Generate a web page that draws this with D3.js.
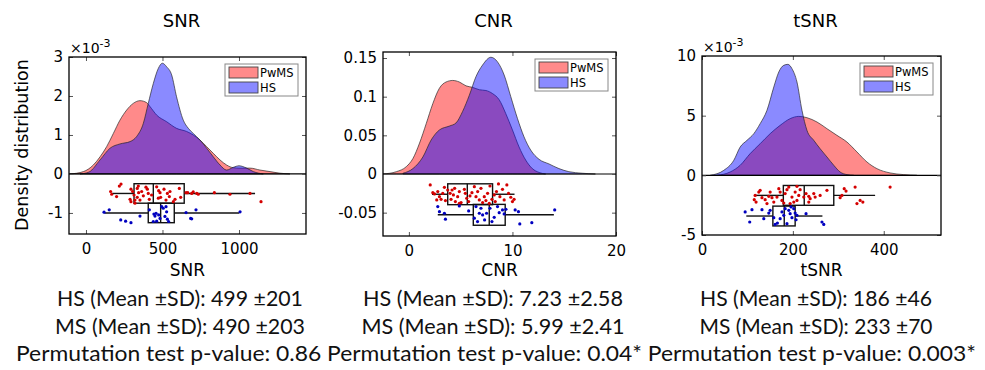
<!DOCTYPE html>
<html>
<head>
<meta charset="utf-8">
<script src="https://cdn.jsdelivr.net/npm/d3@7"></script>
<style>
	body { margin: 0; background: #fff; }
	svg text { font-family: "DejaVu Sans", sans-serif; fill: #000; }
	.stats text { font-family: Lato, "Open Sans", sans-serif; fill: #111; }
</style>
</head>
<body>
<svg id="chart" width="985" height="370"></svg>
<script>

const panelTitles = ['SNR', 'CNR', 'tSNR'];
const legendLabels = ['PwMS', 'HS'];

// density curves: [value, density] (SNR and tSNR densities in units of 1e-3)
const snrDensityMS = [[-105,0],[-17,0.06],[48,0.23],[92,0.44],[135,0.70],[179,1.04],[222,1.38],[266,1.64],[309,1.81],[353,1.88],[396,1.83],[418,1.73],[462,1.51],[527,1.34],[592,1.17],[658,1.09],[701,1.0],[745,0.87],[789,0.70],[832,0.53],[876,0.36],[919,0.23],[963,0.16],[1007,0.15],[1072,0.15],[1137,0.10],[1203,0.06],[1268,0.02],[1333,0]];
const snrDensityHS = [[-39,0],[20,0.05],[92,0.36],[157,0.66],[222,0.77],[288,0.83],[331,0.96],[375,1.30],[407,1.81],[440,2.32],[473,2.71],[499,2.84],[527,2.75],[560,2.54],[592,1.98],[636,1.38],[669,1.17],[701,1.04],[745,0.87],[789,0.66],[832,0.44],[876,0.23],[919,0.10],[963,0.17],[1000,0.21],[1050,0.15],[1094,0.06],[1159,0]];
const cnrDensityMS = [[-2.5,0],[-1.21,0.003],[-0.25,0.0095],[0.39,0.020],[1.03,0.040],[1.67,0.065],[2.31,0.091],[2.95,0.111],[3.59,0.119],[4.23,0.121],[4.87,0.119],[5.52,0.114],[6.16,0.112],[6.80,0.109],[7.44,0.108],[8.08,0.104],[8.72,0.096],[9.36,0.078],[10.0,0.057],[10.64,0.035],[11.28,0.018],[11.92,0.007],[12.57,0.002],[13.21,0]];
const cnrDensityHS = [[-0.57,0.001],[0.39,0.007],[1.35,0.022],[2.15,0.044],[2.95,0.057],[3.91,0.062],[4.55,0.066],[5.19,0.081],[5.84,0.102],[6.48,0.126],[7.12,0.141],[7.92,0.151],[8.56,0.145],[9.20,0.128],[9.84,0.100],[10.48,0.072],[11.12,0.048],[11.76,0.031],[12.57,0.019],[13.53,0.013],[14.49,0.007],[15.45,0.003],[16.73,0.001],[18.01,0]];
const tsnrDensityMS = [[33,0],[62,0.28],[84,0.84],[106,1.82],[128,2.65],[150,3.49],[172,4.19],[194,4.75],[213,4.94],[231,4.83],[253,4.47],[275,3.91],[297,3.35],[319,2.79],[341,1.96],[363,1.12],[385,0.56],[414,0.20],[444,0.06],[473,0]];
const tsnrDensityHS = [[18,0],[48,0.42],[70,1.26],[84,2.37],[99,2.93],[114,3.49],[128,4.33],[143,5.45],[158,7.40],[169,8.66],[180,9.22],[189,9.30],[198,8.94],[209,7.82],[220,5.45],[231,3.77],[246,2.93],[260,2.23],[275,1.54],[290,0.84],[304,0.28],[319,0.06],[334,0]];

// box stats: [lower whisker, Q1, median, Q3, upper whisker]
const snrBoxMS = [168, 314, 440, 642, 1105];
const snrBoxHS = [120, 407, 488, 577, 1002];
const cnrBoxMS = [2.23, 3.75, 5.64, 8.08, 10.2];
const cnrBoxHS = [2.79, 6.22, 7.76, 9.30, 14.0];
const tsnrBoxMS = [117, 179, 225, 290, 381];
const tsnrBoxHS = [97.5, 156, 181, 205, 265];

// box rows (centre level of PwMS, centre level of HS, half height) in density units
const snrBoxRows = [-0.5, -1.0, 0.25];
const cnrBoxRows = [-0.0262, -0.0528, 0.0135];
const tsnrBoxRows = [-1.68, -3.41, 0.83];

// individual subjects: [value, jittered level]
const snrPointsMS = [[229,-0.26],[218,-0.31],[161,-0.45],[168,-0.52],[200,-0.58],[294,-0.39],[305,-0.45],[314,-0.54],[288,-0.65],[294,-0.71],[320,-0.67],[335,-0.37],[364,-0.45],[392,-0.34],[401,-0.39],[407,-0.50],[414,-0.65],[462,-0.33],[475,-0.43],[484,-0.48],[510,-0.39],[523,-0.67],[532,-0.50],[549,-0.45],[571,-0.71],[582,-0.65],[610,-0.37],[619,-0.60],[654,-0.48],[665,-0.48],[691,-0.50],[701,-0.46],[724,-0.50],[734,-0.52],[839,-0.48],[941,-0.52],[1072,-0.50],[1144,-0.71],[473,-0.62],[335,-0.60],[353,-0.67],[375,-0.56],[344,-0.48],[320,-0.75],[429,-0.54],[545,-0.58],[488,-0.60],[342,-0.31]];
const snrPointsHS = [[118,-0.98],[152,-0.92],[227,-1.18],[259,-1.21],[294,-1.25],[353,-1.08],[444,-1.03],[451,-1.08],[462,-1.21],[458,-1.01],[495,-0.84],[505,-0.88],[523,-0.84],[527,-0.97],[532,-1.16],[540,-1.22],[516,-1.09],[484,-1.14],[475,-1.05],[654,-0.99],[684,-1.14],[719,-0.92],[1007,-0.97],[414,-0.92],[691,-1.15],[440,-1.22]];
const cnrPointsMS = [[2.06,-0.0142],[2.31,-0.0241],[2.47,-0.0258],[2.79,-0.0228],[2.95,-0.0293],[3.11,-0.0327],[3.27,-0.0250],[3.43,-0.0172],[3.75,-0.0207],[3.98,-0.0250],[4.07,-0.0327],[4.30,-0.0271],[4.49,-0.0357],[4.71,-0.0293],[4.87,-0.0228],[5.04,-0.0370],[5.36,-0.0198],[5.45,-0.0250],[5.58,-0.0314],[5.77,-0.0357],[6.09,-0.0241],[6.32,-0.0164],[6.48,-0.0293],[6.64,-0.0228],[6.80,-0.0336],[6.96,-0.0185],[7.28,-0.0293],[7.44,-0.0344],[7.60,-0.0250],[7.83,-0.0155],[8.02,-0.0327],[8.24,-0.0271],[8.46,-0.0228],[8.65,-0.0129],[8.79,-0.0293],[9.04,-0.0198],[9.20,-0.0336],[9.46,-0.0142],[9.62,-0.0250],[9.84,-0.0301],[10.0,-0.0357],[10.16,-0.0327],[8.34,-0.0357],[7.76,-0.0379],[7.12,-0.0370],[3.53,-0.0344],[2.69,-0.0336],[4.17,-0.0207],[4.87,-0.0379],[5.90,-0.0284],[4.42,-0.0185]];
const cnrPointsHS = [[2.79,-0.0422],[2.95,-0.0487],[3.43,-0.0508],[3.53,-0.0585],[4.87,-0.0413],[5.77,-0.0478],[6.48,-0.0422],[6.96,-0.0443],[7.12,-0.0530],[7.31,-0.0594],[7.50,-0.0508],[7.83,-0.0443],[8.02,-0.0616],[8.24,-0.0560],[8.56,-0.0422],[8.72,-0.0500],[9.04,-0.0465],[9.20,-0.0517],[9.37,-0.0456],[10.26,-0.0465],[10.58,-0.0487],[10.71,-0.0646],[11.87,-0.0629],[14.08,-0.0465],[6.32,-0.0572],[6.80,-0.0508],[6.63,-0.0616]];
const tsnrPointsMS = [[117,-1.68],[125,-1.40],[128,-1.26],[115,-2.04],[119,-2.24],[132,-1.87],[139,-2.04],[143,-2.37],[147,-1.76],[154,-1.87],[158,-2.24],[165,-1.82],[172,-1.40],[176,-2.10],[183,-1.53],[187,-1.20],[191,-0.98],[198,-1.82],[202,-2.24],[205,-1.40],[209,-2.10],[213,-1.68],[216,-1.20],[224,-1.82],[229,-1.53],[235,-1.76],[238,-1.96],[246,-1.53],[249,-1.82],[260,-1.68],[275,-1.26],[304,-1.87],[308,-1.68],[313,-1.12],[317,-1.32],[337,-0.98],[341,-2.37],[348,-2.10],[354,-2.24],[414,-0.98],[180,-2.32],[194,-2.37],[169,-1.12],[209,-0.92],[150,-1.40],[235,-2.24]];
const tsnrPointsHS = [[95,-3.07],[105,-3.91],[110,-2.88],[132,-2.88],[136,-3.63],[147,-3.16],[150,-2.93],[158,-3.55],[161,-4.11],[172,-3.63],[180,-3.35],[183,-2.79],[187,-4.05],[191,-2.93],[194,-3.21],[198,-3.55],[202,-2.79],[205,-3.16],[209,-3.35],[229,-3.21],[264,-3.91],[268,-4.11],[166,-4.00],[176,-3.07],[196,-2.65],[207,-3.72]];

// axes
const snrXDomain = [-111, 1438], snrYDomain = [-1.54, 3];
const cnrXDomain = [-2.5, 20], cnrYDomain = [-0.0802, 0.1578];
const tsnrXDomain = [0, 526], tsnrYDomain = [-5, 10];
const snrXTicks = [0, 500, 1000], snrYTicks = [-1, 0, 1, 2, 3];
const cnrXTicks = [0, 10, 20], cnrYTicks = [-0.05, 0, 0.05, 0.1, 0.15];
const tsnrXTicks = [0, 200, 400], tsnrYTicks = [-5, 0, 5, 10];
const yExponents = [-3, null, -3];

// group statistics printed under each panel
const hsMean = ['499', '7.23', '186'], hsSD = ['201', '2.58', '46'];
const msMean = ['490', '5.99', '233'], msSD = ['203', '2.41', '70'];
const pValues = ['0.86', '0.04*', '0.003*'];

const panels = [
	{ title: panelTitles[0], xDomain: snrXDomain, yDomain: snrYDomain, xTicks: snrXTicks, yTicks: snrYTicks, exp: yExponents[0],
	  dens: [snrDensityMS, snrDensityHS], boxes: [snrBoxMS, snrBoxHS], points: [snrPointsMS, snrPointsHS], rows: snrBoxRows,
	  frame: { left: 69, right: 306, top: 57, bottom: 234 } },
	{ title: panelTitles[1], xDomain: cnrXDomain, yDomain: cnrYDomain, xTicks: cnrXTicks, yTicks: cnrYTicks, exp: yExponents[1],
	  dens: [cnrDensityMS, cnrDensityHS], boxes: [cnrBoxMS, cnrBoxHS], points: [cnrPointsMS, cnrPointsHS], rows: cnrBoxRows,
	  frame: { left: 383, right: 616, top: 52, bottom: 236 } },
	{ title: panelTitles[2], xDomain: tsnrXDomain, yDomain: tsnrYDomain, xTicks: tsnrXTicks, yTicks: tsnrYTicks, exp: yExponents[2],
	  dens: [tsnrDensityMS, tsnrDensityHS], boxes: [tsnrBoxMS, tsnrBoxHS], points: [tsnrPointsMS, tsnrPointsHS], rows: tsnrBoxRows,
	  frame: { left: 702, right: 941, top: 56, bottom: 235 } }
];

const fills = ['rgba(255,0,0,0.46)', 'rgba(0,0,255,0.46)'];
const dotColors = ['#d40000', '#0000c0'];

const svg = d3.select('#chart');

function drawPanel(p, idx) {

	const f = p.frame;
	const x = d3.scaleLinear().domain(p.xDomain).range([f.left, f.right]);
	const y = d3.scaleLinear().domain(p.yDomain).range([f.bottom, f.top]);
	const g = svg.append('g').attr('class', 'panel');

	g.append('clipPath')
		.attr('id', `clip${idx}`)
		.append('rect')
			.attr('x', f.left).attr('y', f.top)
			.attr('width', f.right - f.left).attr('height', f.bottom - f.top);

	const plot = g.append('g').attr('clip-path', `url(#clip${idx})`);

	const area = d3.area()
		.x(d => x(d[0]))
		.y0(y(0))
		.y1(d => y(d[1]))
		.curve(d3.curveMonotoneX);

	p.dens.forEach((dens, i) => {
		plot.append('path')
			.datum(dens)
			.attr('d', area)
			.attr('fill', fills[i])
			.attr('stroke', 'rgba(30,30,30,0.65)')
			.attr('stroke-width', 1);
	});

	plot.append('line')
		.attr('x1', f.left).attr('x2', f.right)
		.attr('y1', y(0)).attr('y2', y(0))
		.attr('stroke', '#000').attr('stroke-width', 1.2);

	// boxplots
	const half = p.rows[2];
	p.boxes.forEach((b, i) => {
		const lvl = p.rows[i];
		const bg = plot.append('g').attr('stroke', '#111').attr('stroke-width', 1.4).attr('fill', 'none');
		bg.append('line').attr('x1', x(b[0])).attr('x2', x(b[1])).attr('y1', y(lvl)).attr('y2', y(lvl));
		bg.append('line').attr('x1', x(b[3])).attr('x2', x(b[4])).attr('y1', y(lvl)).attr('y2', y(lvl));
		bg.append('rect')
			.attr('x', x(b[1])).attr('width', x(b[3]) - x(b[1]))
			.attr('y', y(lvl + half)).attr('height', y(lvl - half) - y(lvl + half));
		bg.append('line').attr('x1', x(b[2])).attr('x2', x(b[2])).attr('y1', y(lvl + half)).attr('y2', y(lvl - half));
	});

	p.points.forEach((pts, i) => {
		plot.append('g')
			.selectAll('circle')
			.data(pts)
			.enter()
			.append('circle')
				.attr('cx', d => x(d[0]))
				.attr('cy', d => y(d[1]))
				.attr('r', 1.6)
				.attr('fill', dotColors[i]);
	});

	// axes with inward ticks on all four sides
	const fmt = v => String(+v.toFixed(4));
	g.append('g')
		.attr('transform', `translate(0,${f.bottom})`)
		.call(d3.axisBottom(x).tickValues(p.xTicks).tickFormat(fmt).tickSizeInner(-4).tickSizeOuter(0).tickPadding(9))
		.call(a => a.selectAll('text').style('font-size', '15px').attr('fill', '#000'));
	g.append('g')
		.attr('transform', `translate(0,${f.top})`)
		.call(d3.axisTop(x).tickValues(p.xTicks).tickFormat('').tickSizeInner(-4).tickSizeOuter(0));
	g.append('g')
		.attr('transform', `translate(${f.left},0)`)
		.call(d3.axisLeft(y).tickValues(p.yTicks).tickFormat(fmt).tickSizeInner(-4).tickSizeOuter(0).tickPadding(6))
		.call(a => a.selectAll('text').style('font-size', '15px').attr('fill', '#000'));
	g.append('g')
		.attr('transform', `translate(${f.right},0)`)
		.call(d3.axisRight(y).tickValues(p.yTicks).tickFormat('').tickSizeInner(-4).tickSizeOuter(0));

	g.selectAll('.domain').remove();
	g.selectAll('.tick line').attr('stroke', '#555');

	g.append('rect')
		.attr('x', f.left).attr('y', f.top)
		.attr('width', f.right - f.left).attr('height', f.bottom - f.top)
		.attr('fill', 'none').attr('stroke', '#000').attr('stroke-width', 1.3);

	if (p.exp !== null) {
		const e = g.append('text')
			.attr('x', f.left + 1).attr('y', f.top - 4)
			.style('font-size', '14px');
		e.append('tspan').text('×10');
		e.append('tspan').attr('dy', -6).style('font-size', '11px').text(p.exp);
	}

	// legend
	const lw = 73, lh = 32;
	const lx = f.right - 8 - lw, ly = f.top + 7;
	const leg = g.append('g').attr('transform', `translate(${lx},${ly})`);
	leg.append('rect')
		.attr('width', lw).attr('height', lh)
		.attr('fill', '#fff').attr('stroke', '#888').attr('stroke-width', 1);
	legendLabels.forEach((lab, i) => {
		leg.append('rect')
			.attr('x', 4).attr('y', 3 + i * 15)
			.attr('width', 29).attr('height', 11)
			.attr('fill', fills[i]).attr('stroke', '#444').attr('stroke-width', 0.9);
		leg.append('text')
			.attr('x', 35).attr('y', 13 + i * 15)
			.style('font-size', '11.5px')
			.text(lab);
	});

	const cx = (f.left + f.right) / 2;
	g.append('text')
		.attr('x', cx - 6).attr('y', 27)
		.attr('text-anchor', 'middle')
		.style('font-size', '18px')
		.text(p.title);
	g.append('text')
		.attr('x', cx).attr('y', 276)
		.attr('text-anchor', 'middle')
		.style('font-size', '17px')
		.text(p.title);
}

panels.forEach(drawPanel);

svg.append('text')
	.attr('transform', 'translate(28,145) rotate(-90)')
	.attr('text-anchor', 'middle')
	.style('font-size', '17.5px')
	.text('Density distribution');

// statistics lines under the panels
const statCentres = [180, 493, 816];
const hsWidths = [246, 260, 232], msWidths = [250, 263, 233];
const stats = svg.append('g').attr('class', 'stats');

panelTitles.forEach((t, i) => {
	stats.append('text')
		.attr('x', statCentres[i]).attr('y', 306)
		.attr('text-anchor', 'middle')
		.attr('textLength', hsWidths[i]).attr('lengthAdjust', 'spacingAndGlyphs')
		.style('font-size', '21px')
		.text(`HS (Mean ±SD): ${hsMean[i]} ±${hsSD[i]}`);
	stats.append('text')
		.attr('x', statCentres[i]).attr('y', 334)
		.attr('text-anchor', 'middle')
		.attr('textLength', msWidths[i]).attr('lengthAdjust', 'spacingAndGlyphs')
		.style('font-size', '21px')
		.text(`MS (Mean ±SD): ${msMean[i]} ±${msSD[i]}`);
});

stats.append('text')
	.attr('x', 16).attr('y', 361)
	.attr('textLength', 960).attr('lengthAdjust', 'spacingAndGlyphs')
	.style('font-size', '21px')
	.text(pValues.map(v => `Permutation test p-value: ${v}`).join(' '));

</script>
</body>
</html>
